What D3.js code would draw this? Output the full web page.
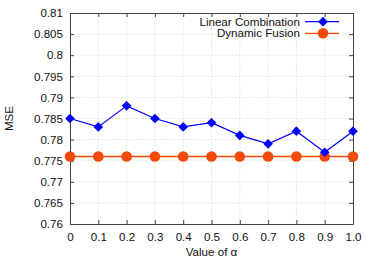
<!DOCTYPE html>
<html><head><meta charset="utf-8">
<script src="https://cdn.jsdelivr.net/npm/d3@7"></script>
<style>body{margin:0;background:#fff}svg{display:block}text{font-family:"Liberation Sans",Arial,sans-serif}</style>
</head><body>
<script>
const alphas = ["0","0.1","0.2","0.3","0.4","0.5","0.6","0.7","0.8","0.9","1.0"];
const linearCombination = [0.785,0.783,0.788,0.785,0.783,0.784,0.781,0.779,0.782,0.777,0.782];
const dynamicFusion = [0.776,0.776,0.776,0.776,0.776,0.776,0.776,0.776,0.776,0.776,0.776];
const yTicks = [0.76,0.765,0.77,0.775,0.78,0.785,0.79,0.795,0.8,0.805,0.81];
const seriesNames = ["Linear Combination","Dynamic Fusion"];

const W=374,H=261, m={l:70,r:21,t:13,b:37};
const svg=d3.select("body").append("svg").attr("width",W).attr("height",H);
const x=d3.scalePoint().domain(alphas).range([m.l,W-m.r]);
const y=d3.scaleLinear().domain([0.76,0.81]).range([H-m.b,m.t]);
const fs=11.6;
// grid
const g=svg.append("g");
g.selectAll(".gx").data(alphas.slice(1,-1)).join("line").attr("x1",d=>x(d)).attr("x2",d=>x(d)).attr("y1",m.t).attr("y2",H-m.b).attr("stroke","#d0d0d0").attr("stroke-width",0.6).attr("stroke-dasharray","1.5,1.5");
g.selectAll(".gy").data(yTicks.slice(1,-1)).join("line").attr("y1",d=>y(d)).attr("y2",d=>y(d)).attr("x1",m.l).attr("x2",W-m.r).attr("stroke","#d0d0d0").attr("stroke-width",0.6).attr("stroke-dasharray","1.5,1.5");
// axes
const ax=d3.axisBottom(x).tickSizeInner(-4).tickSizeOuter(0).tickPadding(9);
const ay=d3.axisLeft(y).tickValues(yTicks).tickFormat(d=>String(+d.toFixed(3))).tickSizeInner(-4).tickSizeOuter(0).tickPadding(7);
const gx=svg.append("g").attr("transform",`translate(0,${H-m.b})`).call(ax);
const gy=svg.append("g").attr("transform",`translate(${m.l},0)`).call(ay);
const gx2=svg.append("g").attr("transform",`translate(0,${m.t})`).call(d3.axisTop(x).tickSizeInner(-4).tickSizeOuter(0).tickFormat(""));
const gy2=svg.append("g").attr("transform",`translate(${W-m.r},0)`).call(d3.axisRight(y).tickValues(yTicks).tickSizeInner(-4).tickSizeOuter(0).tickFormat(""));
[gx,gy,gx2,gy2].forEach(a=>{a.select(".domain").attr("stroke","#444").attr("stroke-width",1);a.selectAll(".tick line").attr("stroke","#444");a.selectAll("text").attr("font-size",fs).attr("fill","#111").attr("font-family","Liberation Sans, Arial, sans-serif");});
// series
const blue="#0000ff", orange="#f24a0a";
const line=d3.line().x((d,i)=>x(alphas[i])).y(d=>y(d));
svg.append("path").datum(dynamicFusion).attr("d",line).attr("fill","none").attr("stroke",orange).attr("stroke-width",1.3);
svg.selectAll(".c").data(dynamicFusion).join("circle").attr("cx",(d,i)=>x(alphas[i])).attr("cy",d=>y(d)).attr("r",5.3).attr("fill",orange);
svg.append("path").datum(linearCombination).attr("d",line).attr("fill","none").attr("stroke",blue).attr("stroke-width",1.2);
const dia=d3.symbol().type(d3.symbolDiamond2).size(60);
svg.selectAll(".dm").data(linearCombination).join("path").attr("d",dia).attr("transform",(d,i)=>`translate(${x(alphas[i])},${y(d)})`).attr("fill",blue);
// legend
const lg=svg.append("g");
const rows=[{n:seriesNames[0],c:blue,s:"d",yy:21.7},{n:seriesNames[1],c:orange,s:"c",yy:33.3}];
rows.forEach(r=>{
  lg.append("text").attr("x",300).attr("y",r.yy).attr("dy","0.35em").attr("text-anchor","end").attr("font-size",fs).attr("fill","#111").text(r.n);
  lg.append("line").attr("x1",305).attr("x2",339).attr("y1",r.yy).attr("y2",r.yy).attr("stroke",r.c).attr("stroke-width",1.3);
  if(r.s==="d") lg.append("path").attr("d",dia).attr("transform",`translate(323,${r.yy})`).attr("fill",r.c);
  else lg.append("circle").attr("cx",323).attr("cy",r.yy).attr("r",5.3).attr("fill",r.c);
});
svg.append("text").attr("x",(m.l+W-m.r)/2).attr("y",256).attr("text-anchor","middle").attr("font-size",fs).attr("fill","#111").text("Value of α");
svg.append("text").attr("transform",`translate(13,${(m.t+H-m.b)/2}) rotate(-90)`).attr("text-anchor","middle").attr("font-size",fs).attr("fill","#111").text("MSE");
</script>
</body></html>
